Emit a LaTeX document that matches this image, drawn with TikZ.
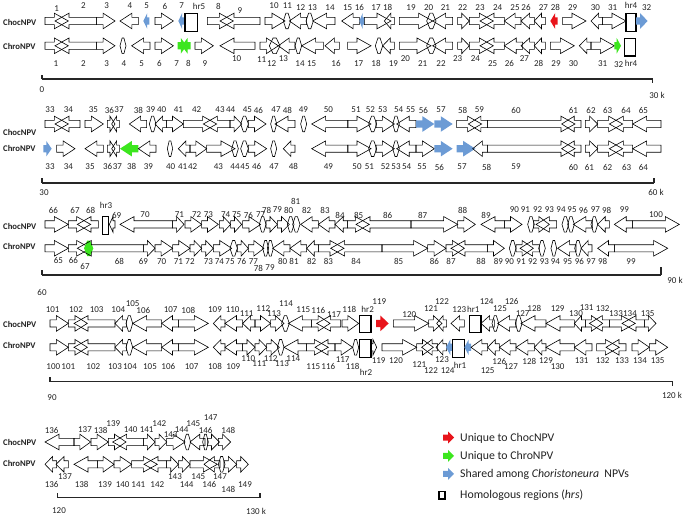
\documentclass[tikz,border=0pt]{standalone}
\usepackage{fontspec}
\setmainfont{Carlito}
\usetikzlibrary{positioning}
\definecolor{ShBlue}{HTML}{6C9BD5}
\definecolor{UqGreen}{HTML}{3CE61E}
\definecolor{UqRed}{HTML}{E8141B}
\definecolor{TxtGray}{HTML}{222222}

\tikzset{
  gene/.style={draw=black,line width=0.6pt,line join=miter},
  shared/.style={fill=ShBlue,draw=none},
  onlychro/.style={fill=UqGreen,draw=none},
  onlychoc/.style={fill=UqRed,draw=none},
  hrrect/.style={draw=black,line width=1.2pt},
  numlab/.style={font=\fontsize{9}{10}\selectfont,text=TxtGray,inner sep=0pt},
  trklab/.style={font=\fontsize{8.7}{10}\selectfont\bfseries,text=TxtGray,anchor=west,inner sep=0pt},
  scaleline/.style={draw=black!85,line width=1.1pt},
  scalelab/.style={font=\fontsize{9}{10}\selectfont,text=TxtGray,inner sep=0pt},
  legtext/.style={font=\fontsize{11.8}{13}\selectfont,text=TxtGray,anchor=west,inner sep=0pt}
}

% x values in 1/3 px, shifted by \xo; y values in px
\def\xo{0}
\def\bh{3.6}% half body
\def\hh{7.8}% half head
\newcommand{\orfR}[4][gene]{%
  \pgfmathsetmacro\ga{\xo+#2/3}%
  \pgfmathsetmacro\gb{\xo+#3/3}%
  \pgfmathsetmacro\gm{\gb-min(14,0.65*(\gb-\ga))}%
  \path[#1] (\ga,#4-\bh) -- (\gm,#4-\bh) -- (\gm,#4-\hh) -- (\gb,#4)
    -- (\gm,#4+\hh) -- (\gm,#4+\bh) -- (\ga,#4+\bh) -- cycle;}
\newcommand{\orfL}[4][gene]{%
  \pgfmathsetmacro\ga{\xo+#2/3}%
  \pgfmathsetmacro\gb{\xo+#3/3}%
  \pgfmathsetmacro\gm{\ga+min(14,0.65*(\gb-\ga))}%
  \path[#1] (\gb,#4-\bh) -- (\gm,#4-\bh) -- (\gm,#4-\hh) -- (\ga,#4)
    -- (\gm,#4+\hh) -- (\gm,#4+\bh) -- (\gb,#4+\bh) -- cycle;}
\newcommand{\orfS}[4][gene]{%
  \pgfmathsetmacro\ga{\xo+#2/3}%
  \pgfmathsetmacro\gb{\xo+#3/3}%
  \pgfmathsetmacro\gc{\ga+0.35*(\gb-\ga)}%
  \pgfmathsetmacro\gd{\gb-0.35*(\gb-\ga)}%
  \path[#1] (\ga,#4) -- (\gc,#4-\hh) -- (\gd,#4-\hh) -- (\gb,#4)
    -- (\gd,#4+\hh) -- (\gc,#4+\hh) -- cycle;}
\newcommand{\hrbox}[3]{%
  \pgfmathsetmacro\ga{\xo+#1/3}%
  \pgfmathsetmacro\gb{\xo+#2/3}%
  \draw[hrrect] (\ga,#3-8.8) rectangle (\gb,#3+8.8);}
\newcommand{\lab}[3]{\node[numlab] (n#3) at (\xo+#1/3,#2) {#3};}
\newcommand{\legarrow}[2]{%
  \fill[#1] (443,#2-3) -- (448,#2-3) -- (448,#2-6) -- (454,#2)
    -- (448,#2+6) -- (448,#2+3) -- (443,#2+3) -- cycle;}

\begin{document}
\begin{tikzpicture}[x=1pt,y=-1pt]
  \useasboundingbox (0,0) rectangle (686,516);

  % ---------------- row 1 : 0 - 30 k
  \node[trklab] (chocA) at (3,22) {ChocNPV};
  \node[trklab] (chroA) at (3,46) {ChroNPV};
  \def\xo{0}
  \orfR{135}{205}{21} \orfL{165}{290}{21} \orfR{290}{345}{21}
  \orfL{360}{415}{21} \orfL[shared]{430}{448}{21} \orfR{465}{520}{21}
  \orfL[shared]{535}{552}{21} \hrbox{555}{593}{22.5}
  \orfR{622}{700}{21} \orfL{660}{780}{21} \orfR{795}{855}{21}
  \orfS{850}{872}{21} \orfL{868}{920}{21} \orfS{918}{940}{21}
  \orfL{938}{1005}{21} \orfL{1025}{1078}{21}
  \orfR{135}{205}{45.8} \orfL{165}{290}{45.8} \orfR{290}{345}{45.8}
  \orfS{360}{378}{45.8} \orfL{395}{450}{45.8} \orfR{465}{520}{45.8}
  \orfR[onlychro]{533}{560}{45.8} \orfL[onlychro]{545}{572}{45.8}
  \orfR{585}{640}{45.8} \orfL{660}{765}{45.8} \orfR{780}{835}{45.8}
  \orfS{808}{840}{45.8} \orfL{835}{885}{45.8} \orfS{885}{905}{45.8}
  \orfL{905}{970}{45.8} \orfL{975}{1018}{45.8}
  \lab{170}{8.3}{1} \lab{250}{6}{2} \lab{320}{6}{3} \lab{390}{6}{4}
  \lab{440}{6}{5} \lab{495}{6}{6} \lab{545}{6}{7} \lab{597}{6}{hr5}
  \lab{655}{6}{8} \lab{720}{10.7}{9} \lab{822}{6}{10} \lab{862}{6}{11}
  \lab{902}{7.3}{12} \lab{937}{7.3}{13} \lab{990}{7.3}{14}
  \lab{168}{63.3}{1} \lab{250}{63.3}{2} \lab{320}{63.3}{3} \lab{372}{63.3}{4}
  \lab{425}{63.3}{5} \lab{478}{63.3}{6} \lab{530}{63.3}{7} \lab{565}{63.3}{8}
  \lab{615}{63.3}{9} \lab{710}{58.3}{10} \lab{785}{60}{11} \lab{815}{63.3}{12}
  \lab{850}{58.3}{13} \lab{900}{63.3}{14} \lab{935}{63.3}{15} \lab{1008}{63.3}{16}
  \def\xo{336}
  \orfL[shared]{70}{85}{21} \orfR{85}{165}{21} \orfL{145}{175}{21}
  \orfR{190}{290}{21} \orfS{272}{300}{21} \orfL{290}{350}{21}
  \orfR{365}{400}{21} \orfR{400}{472}{21} \orfL{432}{505}{21}
  \orfL{505}{555}{21} \orfL{555}{595}{21} \orfL{595}{628}{21}
  \orfL[onlychoc]{643}{665}{21} \orfR{680}{750}{21} \orfL{765}{800}{21}
  \orfR{800}{870}{21} \hrbox{870}{900}{22.5} \orfR[shared]{900}{935}{21}
  \orfR{35}{105}{45.8} \orfS{118}{140}{45.8} \orfL{140}{175}{45.8}
  \orfR{190}{285}{45.8} \orfS{272}{300}{45.8} \orfL{290}{350}{45.8}
  \orfR{365}{400}{45.8} \orfR{400}{472}{45.8} \orfL{432}{505}{45.8}
  \orfL{505}{560}{45.8} \orfL{555}{595}{45.8} \orfL{595}{628}{45.8}
  \orfR{643}{715}{45.8} \orfL{730}{765}{45.8} \orfR{765}{835}{45.8}
  \orfR[onlychro]{835}{855}{45.8} \hrbox{865}{898}{47.3}
  \lab{35}{7.3}{15} \lab{70}{7.3}{16} \lab{120}{7.3}{17} \lab{155}{7.3}{18}
  \lab{225}{7.3}{19} \lab{278}{7.3}{20} \lab{328}{7.3}{21} \lab{380}{7.3}{22}
  \lab{432}{7.3}{23} \lab{485}{7.3}{24} \lab{537}{7.3}{25} \lab{570}{7.3}{26}
  \lab{622}{7.3}{27} \lab{658}{7.3}{28} \lab{710}{7.3}{29} \lab{778}{7.3}{30}
  \lab{830}{7.3}{31} \lab{885}{5}{hr4} \lab{932}{7.3}{32}
  \lab{68}{63.3}{17} \lab{120}{63.3}{18} \lab{172}{63.3}{19} \lab{208}{58.3}{20}
  \lab{260}{63.3}{21} \lab{315}{63.3}{22} \lab{365}{58.3}{23} \lab{418}{58.3}{24}
  \lab{470}{63.3}{25} \lab{520}{63.3}{26} \lab{565}{58.3}{27} \lab{608}{63.3}{28}
  \lab{660}{63.3}{29} \lab{712}{63.3}{30} \lab{800}{63.3}{31} \lab{848}{65}{32}
  \lab{885}{63.3}{hr4}
  \coordinate (a0) at (42,79);
  \coordinate (a30) at (652.7,79);
  \draw[scaleline] (a0) -- (a30);
  \draw[scaleline] (a0) -- ++(0,-4);
  \draw[scaleline] (a30) -- ++(0,4);
  \node[scalelab] (a0lab) at (42,90) {0};
  \node[scalelab] (a30lab) at (657,95) {30 k};

  % ---------------- row 2 : 30 - 60 k
  \node[trklab] (chocB) at (3,132) {ChocNPV};
  \node[trklab] (chroB) at (3,148.3) {ChroNPV};
  \def\xo{0}
  \orfR{135}{205}{124} \orfL{165}{240}{124} \orfR{255}{310}{124}
  \orfR{322}{345}{124} \orfL{335}{358}{124} \orfL{388}{440}{124}
  \orfS{448}{468}{124} \orfL{465}{500}{124} \orfR{500}{550}{124}
  \orfR{550}{650}{124} \orfL{610}{690}{124} \orfR{690}{725}{124}
  \orfS{722}{745}{124} \orfR{745}{798}{124} \orfS{812}{830}{124}
  \orfL{825}{885}{124} \orfS{902}{920}{124} \orfL{935}{1044}{124}
  \orfR[shared]{130}{155}{148.7} \orfR{170}{225}{148.7} \orfL{255}{310}{148.7}
  \orfR{322}{345}{148.7} \orfL{335}{358}{148.7} \orfL[onlychro]{360}{415}{148.7}
  \orfL{415}{468}{148.7} \orfS{502}{518}{148.7} \orfL{535}{570}{148.7}
  \orfR{570}{620}{148.7} \orfR{620}{705}{148.7} \orfS{695}{715}{148.7}
  \orfS{722}{745}{148.7} \orfR{745}{800}{148.7} \orfS{812}{830}{148.7}
  \orfL{850}{885}{148.7} \orfL{935}{1044}{148.7}
  \lab{150}{110}{33} \lab{205}{110}{34} \lab{280}{110}{35} \lab{328}{110}{36}
  \lab{357}{110}{37} \lab{415}{110}{38} \lab{452}{110}{39} \lab{485}{110}{40}
  \lab{535}{110}{41} \lab{590}{110}{42} \lab{660}{110}{43} \lab{692}{110}{44}
  \lab{742}{110}{45} \lab{775}{110}{46} \lab{828}{110}{47} \lab{862}{110}{48}
  \lab{910}{110}{49} \lab{985}{110}{50}
  \lab{150}{166.5}{33} \lab{205}{166.5}{34} \lab{270}{166.5}{35} \lab{323}{166.5}{36}
  \lab{352}{166.5}{37} \lab{395}{166.5}{38} \lab{445}{166.5}{39} \lab{512}{166.5}{40}
  \lab{548}{166.5}{41} \lab{578}{166.5}{42} \lab{655}{166.5}{43} \lab{705}{166.5}{44}
  \lab{735}{166.5}{45} \lab{770}{166.5}{46} \lab{822}{166.5}{47} \lab{880}{166.5}{48}
  \lab{985}{166.5}{49}
  \def\xo{336}
  \orfR{35}{105}{124} \orfS{98}{122}{124} \orfR{120}{175}{124}
  \orfS{170}{190}{124} \orfL{182}{240}{124} \orfR[shared]{240}{295}{124}
  \orfR[shared]{295}{350}{124} \orfR{362}{437}{124} \orfL{397}{455}{124}
  \orfR{455}{717}{124} \orfL{677}{735}{124} \orfR{748}{785}{124}
  \orfR{785}{860}{124} \orfL{820}{890}{124} \orfL{890}{975}{124}
  \orfR{35}{105}{148.7} \orfS{98}{122}{148.7} \orfR{120}{175}{148.7}
  \orfS{170}{190}{148.7} \orfL{182}{240}{148.7} \orfR{240}{295}{148.7}
  \orfR[shared]{295}{350}{148.7} \orfR[shared]{362}{418}{148.7} \orfL{410}{455}{148.7}
  \orfR{455}{717}{148.7} \orfL{677}{735}{148.7} \orfR{748}{785}{148.7}
  \orfR{785}{860}{148.7} \orfL{820}{890}{148.7} \orfL{890}{975}{148.7}
  \lab{60}{110}{51} \lab{103}{110}{52} \lab{140}{110}{53} \lab{188}{110}{54}
  \lab{224}{110}{55} \lab{262}{110}{56} \lab{315}{110}{57} \lab{380}{110}{58}
  \lab{430}{110}{59} \lab{540}{110}{60} \lab{712}{110}{61} \lab{765}{110}{62}
  \lab{815}{110}{63} \lab{870}{110}{64} \lab{922}{110}{65}
  \lab{63}{167}{50} \lab{100}{167}{51} \lab{148}{167}{52} \lab{180}{167}{53}
  \lab{212}{167}{54} \lab{258}{167}{55} \lab{310}{167}{56} \lab{378}{167}{57}
  \lab{452}{167}{58} \lab{540}{167}{59} \lab{712}{167}{60} \lab{760}{167}{61}
  \lab{815}{167}{62} \lab{872}{167}{63} \lab{922}{167}{64}
  \coordinate (b30) at (42,183);
  \coordinate (b60) at (654,183);
  \draw[scaleline] (b30) -- (b60);
  \draw[scaleline] (b30) -- ++(0,-5);
  \draw[scaleline] (b60) -- ++(0,-5);
  \node[scalelab] (b30lab) at (44,192.3) {30};
  \node[scalelab] (b60lab) at (656,192.3) {60 k};

  % ---------------- row 3 : 60 - 90 k
  \node[trklab] (chocC) at (3,226) {ChocNPV};
  \node[trklab] (chroC) at (3,246.7) {ChroNPV};
  \def\xo{0}
  \orfR{135}{205}{224.4} \orfR{205}{272}{224.4} \orfL{232}{295}{224.4}
  \hrbox{308}{325}{225.5} \orfL{328}{345}{224.4} \orfL{360}{518}{224.4}
  \orfR{518}{552}{224.4} \orfR{555}{605}{224.4} \orfR{605}{655}{224.4}
  \orfR{658}{692}{224.4} \orfR{692}{725}{224.4} \orfR{728}{782}{224.4}
  \orfS{778}{798}{224.4} \orfR{798}{832}{224.4} \orfR{832}{868}{224.4}
  \orfS{862}{882}{224.4} \orfS{878}{900}{224.4} \orfL{902}{955}{224.4}
  \orfL{955}{1005}{224.4} \orfL{1005}{1043}{224.4}
  \orfR{135}{205}{248.3} \orfR{205}{272}{248.3} \orfS[onlychro]{252}{280}{248.3}
  \orfL{232}{430}{248.3} \orfR{430}{465}{248.3} \orfR{465}{518}{248.3}
  \orfR{518}{570}{248.3} \orfR{570}{605}{248.3} \orfR{605}{640}{248.3}
  \orfR{640}{695}{248.3} \orfS{690}{712}{248.3} \orfR{712}{745}{248.3}
  \orfR{745}{792}{248.3} \orfS{788}{806}{248.3} \orfS{802}{820}{248.3}
  \orfL{818}{870}{248.3} \orfL{870}{920}{248.3} \orfL{920}{955}{248.3}
  \orfR{955}{1032}{248.3} \orfL{992}{1146}{248.3}
  \lab{160}{210}{66} \lab{225}{210}{67} \lab{272}{210}{68} \lab{318}{205}{hr3}
  \lab{350}{215}{69} \lab{435}{215}{70} \lab{538}{215}{71} \lab{590}{215}{72}
  \lab{625}{215}{73} \lab{677}{215}{74} \lab{710}{215}{75} \lab{745}{215}{76}
  \lab{782}{215}{77} \lab{800}{210}{78} \lab{832}{210}{79} \lab{866}{210}{80}
  \lab{887}{201}{81} \lab{920}{210}{82} \lab{975}{210}{83} \lab{1020}{215}{84}
  \lab{175}{260}{65} \lab{220}{260}{66} \lab{255}{266.7}{67} \lab{358}{261.7}{68}
  \lab{430}{261.7}{69} \lab{485}{261.7}{70} \lab{535}{261.7}{71} \lab{570}{261.7}{72}
  \lab{625}{261.7}{73} \lab{658}{261.7}{74} \lab{690}{261.7}{75} \lab{725}{261.7}{76}
  \lab{760}{261.7}{77} \lab{775}{268}{78} \lab{810}{268}{79} \lab{848}{261.7}{80}
  \lab{882}{261.7}{81} \lab{935}{261.7}{82} \lab{985}{261.7}{83}
  \def\xo{336}
  \orfR{35}{100}{224.4} \orfL{60}{225}{224.4} \orfR{225}{365}{224.4}
  \orfR{365}{418}{224.4} \orfL{435}{505}{224.4} \orfR{505}{558}{224.4}
  \orfS{575}{595}{224.4} \orfR{592}{640}{224.4} \orfL{600}{662}{224.4}
  \orfS{678}{698}{224.4} \orfS{695}{715}{224.4} \orfL{712}{770}{224.4}
  \orfS{765}{785}{224.4} \orfL{785}{820}{224.4} \orfL{835}{890}{224.4}
  \orfR{890}{1030}{224.4}
  \orfR{138}{275}{248.3} \orfR{275}{330}{248.3} \orfR{330}{385}{248.3}
  \orfL{345}{455}{248.3} \orfR{455}{505}{248.3} \orfS{520}{540}{248.3}
  \orfR{540}{592}{248.3} \orfL{552}{610}{248.3} \orfS{608}{628}{248.3}
  \orfS{645}{662}{248.3} \orfL{665}{720}{248.3} \orfS{716}{736}{248.3}
  \orfL{735}{768}{248.3} \orfL{785}{835}{248.3} \orfR{835}{995}{248.3}
  \lab{68}{215}{85} \lab{155}{215}{86} \lab{260}{215}{87} \lab{380}{210}{88}
  \lab{450}{215}{89} \lab{535}{210}{90} \lab{568}{210}{91} \lab{605}{210}{92}
  \lab{640}{210}{93} \lab{675}{210}{94} \lab{708}{210}{95} \lab{742}{210}{96}
  \lab{778}{210}{97} \lab{812}{210}{98} \lab{865}{210}{99} \lab{960}{215}{100}
  \lab{60}{261.7}{84} \lab{188}{261.7}{85} \lab{295}{261.7}{86} \lab{345}{261.7}{87}
  \lab{435}{261.7}{88} \lab{487}{261.7}{89} \lab{520}{261.7}{90} \lab{555}{261.7}{91}
  \lab{590}{261.7}{92} \lab{625}{261.7}{93} \lab{658}{261.7}{94} \lab{695}{261.7}{95}
  \lab{730}{261.7}{96} \lab{765}{261.7}{97} \lab{800}{261.7}{98} \lab{885}{261.7}{99}
  \coordinate (c60) at (42,275);
  \coordinate (c90) at (661,275);
  \draw[scaleline] (c60) -- (c90);
  \draw[scaleline] (c60) -- ++(0,-5);
  \draw[scaleline] (c90) -- ++(0,-8);
  \node[scalelab] (c60lab) at (42,292) {60};
  \node[scalelab] (c90lab) at (675,280) {90 k};

  % ---------------- row 4 : 90 - 120 k
  \node[trklab] (chocD) at (3,324.5) {ChocNPV};
  \node[trklab] (chroD) at (3,345) {ChroNPV};
  \def\xo{0}
  \orfR{150}{205}{323.4} \orfR{205}{262}{323.4} \orfL{222}{345}{323.4}
  \orfL{345}{380}{323.4} \orfS{378}{398}{323.4} \orfL{398}{485}{323.4}
  \orfL{485}{535}{323.4} \orfR{535}{625}{323.4} \orfL{640}{675}{323.4}
  \orfL{675}{728}{323.4} \orfL{728}{765}{323.4} \orfR{765}{812}{323.4}
  \orfR{812}{852}{323.4} \orfS{845}{868}{323.4} \orfL{865}{935}{323.4}
  \orfR{935}{990}{323.4} \orfL{950}{1022}{323.4}
  \orfR{150}{205}{347.3} \orfR{205}{262}{347.3} \orfL{222}{345}{347.3}
  \orfL{345}{380}{347.3} \orfS{378}{398}{347.3} \orfL{398}{485}{347.3}
  \orfL{485}{535}{347.3} \orfR{535}{625}{347.3} \orfL{640}{675}{347.3}
  \orfL{675}{728}{347.3} \orfR{728}{765}{347.3} \orfR{765}{800}{347.3}
  \orfR{800}{838}{347.3} \orfS{832}{852}{347.3} \orfL{852}{920}{347.3}
  \orfR{920}{985}{347.3} \orfL{945}{1005}{347.3}
  \lab{158}{310}{101} \lab{228}{310}{102} \lab{290}{310}{103} \lab{355}{310}{104}
  \lab{398}{303.3}{105} \lab{430}{310}{106} \lab{512}{310}{107} \lab{565}{310}{108}
  \lab{645}{310}{109} \lab{698}{310}{110} \lab{740}{313.3}{111} \lab{790}{308.3}{112}
  \lab{822}{313.3}{113} \lab{858}{303.3}{114} \lab{910}{310}{115} \lab{955}{310}{116}
  \lab{1002}{315}{117}
  \lab{160}{366.7}{100} \lab{205}{366.7}{101} \lab{280}{366.7}{102} \lab{345}{366.7}{103}
  \lab{390}{366.7}{104} \lab{450}{366.7}{105} \lab{505}{366.7}{106} \lab{575}{366.7}{107}
  \lab{645}{366.7}{108} \lab{700}{366.7}{109} \lab{745}{358.3}{110} \lab{778}{363.5}{111}
  \lab{812}{358.3}{112} \lab{846}{364}{113} \lab{880}{358.3}{114} \lab{940}{366.7}{115}
  \lab{985}{366.7}{116}
  \def\xo{336}
  \orfR{18}{68}{323.4} \hrbox{70}{105}{324} \orfR[onlychoc]{120}{158}{323.4}
  \orfR{172}{278}{323.4} \orfR{278}{318}{323.4} \orfL{302}{332}{323.4}
  \orfL{345}{385}{323.4} \hrbox{400}{435}{324} \orfL{435}{475}{323.4}
  \orfS{468}{488}{323.4} \orfL{485}{540}{323.4} \orfS{538}{558}{323.4}
  \orfL{555}{630}{323.4} \orfL{630}{715}{323.4} \orfL{715}{748}{323.4}
  \orfR{748}{800}{323.4} \orfL{760}{820}{323.4} \orfR{820}{898}{323.4}
  \orfL{858}{925}{323.4} \orfR{925}{960}{323.4}
  \orfR{-3}{50}{347.3} \orfS{50}{68}{347.3} \hrbox{70}{105}{348.3}
  \orfR{105}{122}{347.3} \orfR{138}{242}{347.3} \orfR{242}{292}{347.3}
  \orfL{257}{305}{347.3} \orfL{300}{332}{347.3} \orfL[shared]{330}{350}{347.3}
  \hrbox{350}{385}{348.3} \orfL[shared]{385}{405}{347.3} \orfL{405}{455}{347.3}
  \orfL{455}{490}{347.3} \orfL{490}{540}{347.3} \orfL{540}{595}{347.3}
  \orfL{595}{630}{347.3} \orfL{630}{715}{347.3} \orfL{715}{768}{347.3}
  \orfR{782}{850}{347.3} \orfL{810}{870}{347.3} \orfR{888}{940}{347.3}
  \orfR{940}{995}{347.3}
  \lab{40}{309}{118} \lab{95}{309}{hr2} \lab{130}{301.7}{119} \lab{220}{315}{120}
  \lab{285}{309}{121} \lab{318}{301.7}{122} \lab{370}{310}{123} \lab{412}{309}{hr1}
  \lab{452}{302}{124} \lab{492}{309}{125} \lab{527}{301.7}{126} \lab{560}{314}{127}
  \lab{595}{308.3}{128} \lab{665}{308.3}{129} \lab{720}{314}{130} \lab{752}{308}{131}
  \lab{800}{308.3}{132} \lab{840}{313.3}{133} \lab{882}{313.3}{134} \lab{935}{313.3}{135}
  \lab{20}{360}{117} \lab{50}{366.7}{118} \lab{90}{372.3}{hr2} \lab{128}{361}{119}
  \lab{180}{361}{120} \lab{250}{365}{121} \lab{285}{371}{122} \lab{318}{360}{123}
  \lab{335}{371}{124} \lab{372}{365}{hr1} \lab{455}{371}{125} \lab{490}{361}{126}
  \lab{525}{366.7}{127} \lab{580}{361}{128} \lab{630}{361}{129} \lab{665}{366.7}{130}
  \lab{737}{361}{131} \lab{800}{361}{132} \lab{858}{361}{133} \lab{912}{361}{134}
  \lab{965}{361}{135}
  \coordinate (d90) at (50,381.7);
  \coordinate (d120) at (672.7,381.7);
  \draw[scaleline] (d90) -- (d120);
  \draw[scaleline] (d90) -- ++(0,-5);
  \draw[scaleline] (d120) -- ++(0,4);
  \node[scalelab] (d90lab) at (52,398) {90};
  \node[scalelab] (d120lab) at (672,395) {120 k};

  % ---------------- row 5 : 120 - 130 k
  \node[trklab] (chocE) at (3,442.5) {ChocNPV};
  \node[trklab] (chroE) at (3,463.3) {ChroNPV};
  \def\xo{0}
  \orfL{135}{222}{442} \orfR{222}{272}{442} \orfR{273}{325}{442}
  \orfR{325}{378}{442} \orfL{338}{430}{442} \orfR{430}{465}{442}
  \orfR{465}{500}{442} \orfR{500}{555}{442} \orfS{552}{572}{442}
  \orfL{570}{615}{442} \orfS{608}{625}{442} \orfR{622}{658}{442}
  \orfR{655}{692}{442}
  \orfL{135}{170}{464.3} \orfL{168}{205}{464.3} \orfL{222}{292}{464.3}
  \orfR{292}{342}{464.3} \orfR{342}{395}{464.3} \orfR{395}{472}{464.3}
  \orfL{432}{500}{464.3} \orfR{500}{535}{464.3} \orfR{535}{570}{464.3}
  \orfR{570}{652}{464.3} \orfL{612}{660}{464.3} \orfS{655}{675}{464.3}
  \orfR{672}{710}{464.3} \orfR{710}{745}{464.3}
  \lab{155}{430}{136} \lab{255}{430}{137} \lab{302}{430}{138} \lab{340}{423.3}{139}
  \lab{392}{430}{140} \lab{440}{430}{141} \lab{478}{423.3}{142} \lab{512}{435}{143}
  \lab{545}{430}{144} \lab{580}{423.3}{145} \lab{617}{430}{146} \lab{632}{417.7}{147}
  \lab{685}{430}{148}
  \lab{155}{484.3}{136} \lab{195}{476.7}{137} \lab{245}{484.3}{138} \lab{315}{484.3}{139}
  \lab{368}{484.3}{140} \lab{415}{484.3}{141} \lab{472}{484.3}{142} \lab{525}{476.7}{143}
  \lab{560}{484.3}{144} \lab{595}{476.7}{145} \lab{628}{484.3}{146} \lab{660}{476.7}{147}
  \lab{685}{489}{148} \lab{735}{484.3}{149}
  \coordinate (e120) at (57.3,497.7);
  \coordinate (e130) at (260,497.7);
  \draw[scaleline] (e120) -- (e130);
  \draw[scaleline] (e120) -- ++(0,-5);
  \draw[scaleline] (e130) -- ++(0,-5);
  \node[scalelab] (e120lab) at (59,511) {120};
  \node[scalelab] (e130lab) at (256,511) {130 k};

  % ---------------- legend
  \legarrow{onlychoc}{437.5}
  \legarrow{onlychro}{455.8}
  \legarrow{shared}{473.8}
  \draw[hrrect] (439,491.7) rectangle (445,499);
  \node[legtext] (legchoc) at (460,438) {Unique to ChocNPV};
  \node[legtext] (legchro) at (460,456) {Unique to ChroNPV};
  \node[legtext] (legshared) at (460,474.5) {Shared among \textit{Choristoneura}\ \ NPVs};
  \node[legtext] (leghr) at (460,495) {Homologous regions (\textit{hrs})};
\end{tikzpicture}
\end{document}
